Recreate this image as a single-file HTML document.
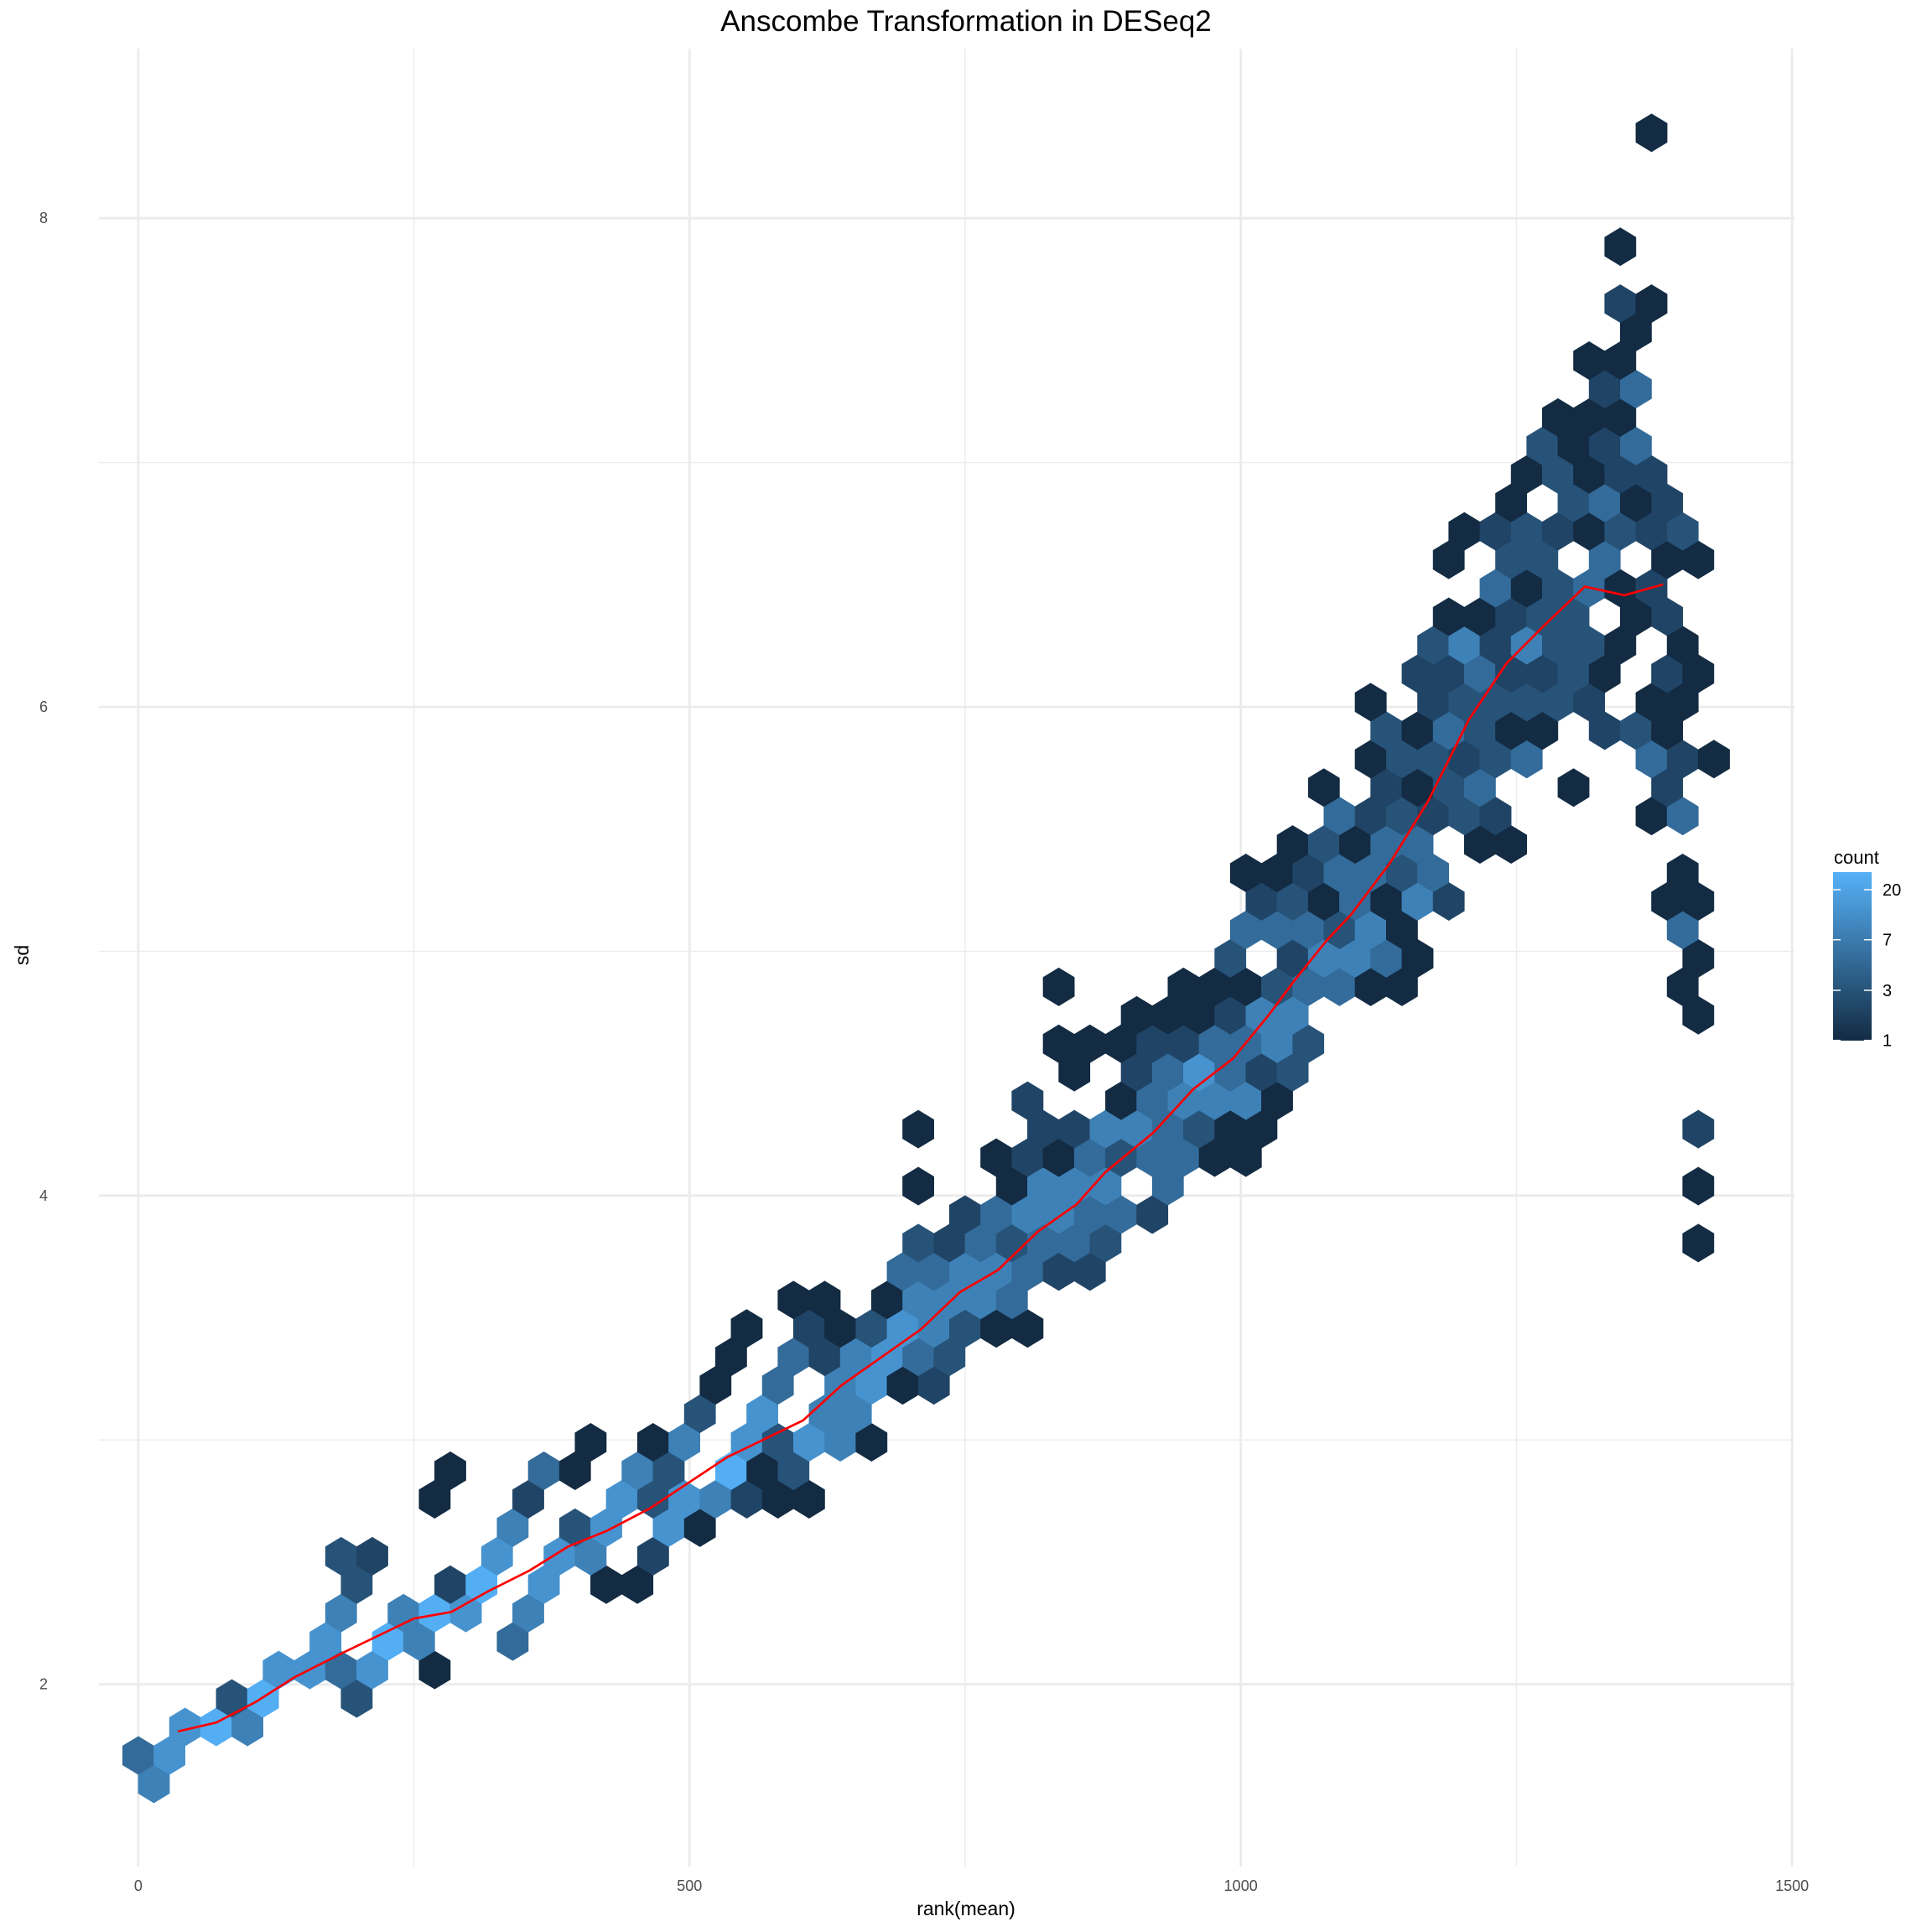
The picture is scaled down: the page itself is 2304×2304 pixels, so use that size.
<!DOCTYPE html>
<html><head><meta charset="utf-8"><title>Anscombe Transformation in DESeq2</title>
<style>html,body{margin:0;padding:0;background:#fff}svg{display:block}text{font-family:"Liberation Sans",Arial,sans-serif}</style>
</head><body>
<svg id="chart" width="2304" height="2304" viewBox="0 0 2304 2304" xmlns="http://www.w3.org/2000/svg">
<rect x="0" y="0" width="2304" height="2304" fill="#fff"/>
<g id="grid"></g>
<g id="hexes"></g>
<g id="trend"></g>
<g id="axes"></g>
<text x="1152" y="37" text-anchor="middle" font-size="35" fill="#000">Anscombe Transformation in DESeq2</text>
<text x="1152" y="2284" text-anchor="middle" font-size="23" fill="#000">rank(mean)</text>
<text x="0" y="0" transform="translate(34,1139) rotate(-90)" text-anchor="middle" font-size="23" fill="#000">sd</text>
<g id="legend">
<defs><linearGradient id="cg" x1="0" y1="1" x2="0" y2="0"><stop offset="0" stop-color="#132B43"/><stop offset="1" stop-color="#56B1F7"/></linearGradient></defs>
<text x="2187" y="1030" font-size="22" fill="#000">count</text>
<rect x="2186" y="1040" width="46" height="201" fill="url(#cg)"/>
</g>
</svg>
<script>
// hexbin data: per bin-row (row r -> sd centre), bin columns (col j -> rank centre) and counts
const binCols = [
[1],[0,2],[3,5,7],[6,8,14],[9,11,13,15,19],[12,16,18,24],[13,17,19,21,25],[14,20,22,26,30,32],
[13,15,23,27,29,33],[24,28,30,34,36],[19,25,31,33,35,37,39,41,43],[20,26,28,32,34,38,40,42],
[29,33,35,39,41,43,45,47],[36,40,44,46],[37,41,45,47,49,51],[38,42,44,46,48,50,52],
[39,43,45,47,49,51,53,55,57],[42,44,48,50,52,54,56],[49,51,53,55,57,59,61],[50,52,54,56,58,60,62,100],
[53,55,57,59,61,63,65],[50,56,58,60,62,66,100],[55,57,59,61,63,65,67,69,71],[50,58,60,62,64,66,68,70,72,100],
[57,63,65,67,69,71,73],[60,64,66,68,70,72,74],[59,61,63,65,67,69,71,73,75],[64,66,68,70,72,74,100],
[59,67,69,71,73,75,77,79,81,99],[70,74,76,78,80,82,100],[71,73,75,77,79,81,99],[72,74,76,78,80,82,84,98,100],
[71,73,75,77,79,81,83,99],[74,76,78,80,82,86,88],[77,79,81,83,85,87,97,99],[76,80,82,84,86,92,98],
[79,81,83,85,87,89,97,99,101],[80,82,84,86,88,90,94,96,98],[79,83,85,87,89,91,93,97,99],[82,84,86,88,90,92,94,98,100],
[83,85,87,89,91,93,95,99],[84,86,88,90,92,96,98],[87,89,91,93,95,97],[84,88,90,94,98,100],
[85,87,89,91,93,95,97,99],[88,92,94,96,98],[89,91,93,95,97],[90,92,94,96],[91,93,95],[94,96],[93,95],[96],[95,97],[],[95],[],[],[],[97]
];
const binCounts = [
[8],[5,13],[13,23,8],[3,23,3],[13,13,5,13,1],[13,23,8,5],[8,8,23,13,8],[3,2,23,13,1,1],
[3,2,13,13,8,2],[8,3,13,13,1],[1,2,13,3,13,8,2,1,1],[1,5,1,8,3,23,1,3],
[1,1,8,13,3,13,8,1],[3,13,8,8],[1,5,8,13,1,2],[1,5,2,8,13,5,3],
[1,2,1,3,13,8,3,1,1],[1,1,1,8,8,8,5],[5,5,8,8,5,2,2],[3,2,5,3,5,5,3,1],
[2,5,8,8,5,5,2],[1,1,8,8,8,5,1],[1,2,1,5,3,5,5,1,1],[1,2,2,8,8,5,3,1,1,2],
[2,1,5,8,8,8,1],[1,2,5,13,5,2,3],[1,1,1,2,2,5,5,8,3],[1,1,1,2,8,8,1],
[1,1,1,1,3,5,5,1,1,1],[3,2,8,8,5,1,1],[5,5,5,3,8,1,5],[2,3,1,5,1,8,2,1,1],
[1,1,2,5,5,3,5,1],[1,3,1,5,5,1,1],[5,2,3,2,3,2,1,5],[1,2,1,3,5,1,2],
[1,3,3,2,3,5,5,2,1],[3,1,5,3,1,1,2,3,1],[1,2,3,3,3,3,2,1,1],[2,2,5,2,2,3,1,2,1],
[3,8,2,8,3,3,1,1],[1,1,2,3,3,1,2],[5,1,3,5,1,2],[1,3,3,5,1,1],
[1,2,3,2,1,3,2,3],[1,3,5,1,2],[1,3,1,2,2],[3,1,2,5],[1,1,1],[2,5],[1,1],[1],[2,1],[],[1],[],[],[],[1]
];
// trend line (rank vs sd)
const lineRank = [36,71,107,141,187,250,284,317,355,390,425,464,534,603,638,710,745,780,816,851,877,921,957,993,1025,1049,1078,1100,1135,1170,1207,1241,1274,1312,1348,1383];
const lineSd = [1.807,1.844,1.929,2.027,2.132,2.269,2.296,2.380,2.466,2.564,2.628,2.720,2.929,3.080,3.224,3.453,3.604,3.696,3.853,3.964,4.095,4.259,4.436,4.561,4.737,4.882,5.045,5.150,5.359,5.615,5.949,6.178,6.328,6.492,6.457,6.501];
const xTicks = [0,500,1000,1500];
const xMinor = [250,750,1250];
const yTicks = [2,4,6,8];
const yMinor = [3,5,7];
const legendBreaks = [1,3,7,20];

const BIN_RANK = 14.15, SD0 = 1.5923, BIN_SD = 0.1165;
const NS = 'http://www.w3.org/2000/svg';
function sx(v){ return 164.9 + 1.3148*v; }
function sy(v){ return 2591.4 - 291.4*v; }
const PX0 = 118, PX1 = 2140, PY0 = 58, PY1 = 2226;
function colorOf(c){
  const bk=[1,3,7,20,24], pos=[0,0.3,0.6,0.9,1];
  let t=1;
  for(let i=0;i<bk.length-1;i++){ if(c<=bk[i+1]){ t=pos[i]+(pos[i+1]-pos[i])*Math.log(c/bk[i])/Math.log(bk[i+1]/bk[i]); break; } }
  t=Math.max(0,Math.min(1,t));
  const a=[19,43,67], b=[86,177,247];
  return 'rgb('+a.map((v,i)=>Math.round(v+(b[i]-v)*t)).join(',')+')';
}
function mk(tag, attrs, parent){ const e=document.createElementNS(NS,tag); for(const k in attrs) e.setAttribute(k,attrs[k]); parent.appendChild(e); return e; }

const grid=document.getElementById('grid');
xMinor.forEach(v=>{ const l=mk('line',{x1:sx(v),x2:sx(v),y1:PY0,y2:PY1,stroke:'#EBEBEB','stroke-width':1.4},grid);

 });
yMinor.forEach(v=>{ const l=mk('line',{x1:PX0,x2:PX1,y1:sy(v),y2:sy(v),stroke:'#EBEBEB','stroke-width':1.4},grid);

 });
xTicks.forEach(v=>{ const l=mk('line',{x1:sx(v),x2:sx(v),y1:PY0,y2:PY1,stroke:'#EBEBEB','stroke-width':2.8},grid);

 });
yTicks.forEach(v=>{ const l=mk('line',{x1:PX0,x2:PX1,y1:sy(v),y2:sy(v),stroke:'#EBEBEB','stroke-width':2.8},grid);

 });

const hexG=document.getElementById('hexes');
binCols.forEach((cols,r)=>{
  cols.forEach((j,k)=>{
    const cx=sx(j*BIN_RANK), cy=sy(SD0+r*BIN_SD);
    const hw=(sx(BIN_RANK)-sx(0));
    const hh=(sy(0)-sy(BIN_SD))*2/3;
    const pts=[[cx,cy-hh],[cx+hw,cy-hh/2],[cx+hw,cy+hh/2],[cx,cy+hh],[cx-hw,cy+hh/2],[cx-hw,cy-hh/2]].map(p=>p[0].toFixed(1)+','+p[1].toFixed(1)).join(' ');
    const col=colorOf(binCounts[r][k]);
    const h=mk('polygon',{points:pts,fill:col,stroke:col,'stroke-width':0.6},hexG);
    
    
  });
});

const trend=document.getElementById('trend');
const path=mk('polyline',{points:lineRank.map((v,i)=>sx(v).toFixed(1)+','+sy(lineSd[i]).toFixed(1)).join(' '),fill:'none',stroke:'#FF0000','stroke-width':2.7,'stroke-linejoin':'round'},trend);



const axes=document.getElementById('axes');
xTicks.forEach(v=>{ const t=mk('text',{x:sx(v),y:2255,'text-anchor':'middle','font-size':18,fill:'#4D4D4D'},axes); t.textContent=String(v);

 });
yTicks.forEach(v=>{ const t=mk('text',{x:57,y:sy(v)+6,'text-anchor':'end','font-size':18,fill:'#4D4D4D'},axes); t.textContent=String(v);

 });

const leg=document.getElementById('legend');
function ly(c){ const bk=[1,3,7,20], pos=[1240.7,1181,1120.7,1061]; return pos[bk.indexOf(c)]; }
legendBreaks.forEach(c=>{
  const y=ly(c);
  const a=mk('line',{x1:2186,x2:2195,y1:y,y2:y,stroke:'#fff','stroke-width':1.5},leg);
  
  
  const b=mk('line',{x1:2223,x2:2232,y1:y,y2:y,stroke:'#fff','stroke-width':1.5},leg);
  
  
  const t=mk('text',{x:2245,y:y+7,'font-size':20,fill:'#000'},leg); t.textContent=String(c);
  
  
});
</script>
</body></html>
